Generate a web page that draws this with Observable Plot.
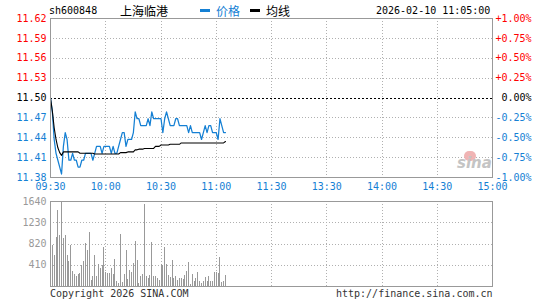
<!DOCTYPE html>
<html><head><meta charset="utf-8">
<script src="https://cdn.jsdelivr.net/npm/d3@7"></script>
<script src="https://cdn.jsdelivr.net/npm/@observablehq/plot@0.6"></script>
<style>
body{margin:0;background:#fff}
#wrap{position:relative;width:545px;height:300px;overflow:hidden;font-family:"DejaVu Sans Mono",monospace;font-size:10px;color:#000}
.t{position:absolute;white-space:nowrap;line-height:12px}
.cjk{font-family:"Noto Sans CJK SC",sans-serif;font-size:12px;line-height:14px}
.abs{position:absolute}
</style></head><body><div id="wrap">
<div class="t" style="left:49px;top:5px">sh600848</div>
<div class="t cjk" style="left:120px;top:4px">上海临港</div>
<div class="abs" style="left:200px;top:9px;width:10px;height:3px;background:#1580d4"></div>
<div class="t cjk" style="left:216px;top:4px;color:#1580d4">价格</div>
<div class="abs" style="left:250px;top:9px;width:10px;height:3px;background:#000"></div>
<div class="t cjk" style="left:266px;top:4px">均线</div>
<div class="t" style="left:376px;top:5px">2026-02-10 11:05:00</div>
<div id="p1" class="abs" style="left:0;top:0"></div>
<div id="p2" class="abs" style="left:0;top:190px"></div>
<div class="abs" style="left:464px;top:151px;width:12px;height:10px;border-radius:6px;background:#f0b4b4"></div>
<div class="t" style="left:457px;top:156px;font-family:'DejaVu Sans';font-weight:bold;font-style:italic;font-size:15px;line-height:15px;color:#c4c4c4">sina</div>
<div class="t" style="left:50px;top:288px;color:#333">Copyright 2026 SINA.COM</div>
<div class="t" style="left:336px;top:288px;color:#333">http://finance.sina.com.cn</div>
</div>
<script>
const prevClose = 11.50;
const timeTicks = [0, 30, 60, 90, 120, 150, 180, 210, 240];
const timeLabels = ["09:30","10:00","10:30","11:00","11:30","13:30","14:00","14:30","15:00"];
const priceTicks = [11.615, 11.58625, 11.5575, 11.52875, 11.50, 11.47125, 11.4425, 11.41375, 11.385];
const priceLabels = ["11.62","11.59","11.56","11.53","11.50","11.47","11.44","11.41","11.38"];
const pctLabels = ["+1.00%","+0.75%","+0.50%","+0.25%","0.00%","-0.25%","-0.50%","-0.75%","-1.00%"];
const volTicks = [1640, 1230, 820, 410];
const volLabels = ["1640","1230","820","410"];

const prices = [
 11.50,11.48,11.44,11.42,11.41,11.40,11.39,11.43,11.45,11.44,
 11.41,11.41,11.42,11.41,11.41,11.40,11.40,11.41,11.41,11.42,
 11.42,11.42,11.42,11.41,11.42,11.43,11.43,11.43,11.42,11.43,
 11.43,11.43,11.43,11.42,11.43,11.42,11.42,11.43,11.44,11.45,
 11.45,11.43,11.44,11.44,11.44,11.45,11.48,11.47,11.47,11.46,
 11.46,11.46,11.46,11.47,11.46,11.48,11.47,11.47,11.47,11.47,
 11.47,11.45,11.47,11.48,11.47,11.46,11.46,11.46,11.47,11.47,
 11.46,11.46,11.46,11.46,11.46,11.45,11.46,11.45,11.45,11.45,
 11.45,11.45,11.44,11.45,11.46,11.45,11.46,11.46,11.45,11.45,
 11.45,11.44,11.47,11.46,11.45,11.45
];
const avgPrices = [
 11.500,11.481,11.457,11.440,11.428,11.421,11.417,11.422,11.422,11.422,
 11.422,11.422,11.422,11.422,11.422,11.422,11.420,11.420,11.420,11.420,
 11.420,11.420,11.420,11.420,11.419,11.419,11.419,11.419,11.419,11.419,
 11.419,11.419,11.419,11.419,11.419,11.419,11.419,11.419,11.421,11.421,
 11.421,11.421,11.422,11.422,11.422,11.422,11.425,11.425,11.426,11.426,
 11.426,11.427,11.427,11.427,11.427,11.427,11.427,11.430,11.430,11.430,
 11.432,11.432,11.432,11.432,11.432,11.433,11.433,11.433,11.433,11.433,
 11.433,11.435,11.435,11.435,11.435,11.435,11.435,11.435,11.435,11.435,
 11.435,11.435,11.435,11.435,11.435,11.435,11.435,11.435,11.435,11.435,
 11.435,11.435,11.435,11.435,11.435,11.437
];
const volumes = [
 410,794,602,954,1467,987,1627,922,987,602,
 474,794,282,230,186,230,250,410,474,826,
 698,1050,122,186,602,186,423,346,410,762,
 269,250,250,346,230,519,90,58,999,77,
 230,698,141,314,269,442,871,506,58,186,
 230,1576,186,154,205,858,186,186,154,122,
 423,410,762,423,218,166,506,154,186,122,
 154,154,141,205,295,461,38,231,90,154,
 269,102,58,102,173,102,186,90,102,269,
 269,250,551,77,90,205
];

const blue = "#1580d4", red = "#ff0000";
const rows = prices.map((p, i) => ({m: i, price: p, avg: avgPrices[i], vol: volumes[i]}));
const dotted = {stroke: "#b0b0b0", strokeDasharray: "1,2", strokeWidth: 1, shapeRendering: "crispEdges"};
const style = {fontFamily: "DejaVu Sans Mono", fontSize: "10px", background: "transparent", overflow: "visible"};

const p1 = Plot.plot({
  width: 545, height: 190,
  marginTop: 18, marginBottom: 13, marginLeft: 50, marginRight: 53,
  style,
  x: {domain: [0, 240], axis: null},
  y: {domain: [11.385, 11.615], axis: null},
  color: {type: "identity"},
  marks: [
    Plot.ruleY(priceTicks.slice(1, -1).filter(v => v !== prevClose), dotted),
    Plot.ruleX(timeTicks.slice(1, -1), dotted),
    Plot.ruleY([prevClose], {stroke: "#000", strokeDasharray: "2,2", strokeWidth: 1, shapeRendering: "crispEdges"}),
    Plot.line(rows, {x: "m", y: "price", stroke: blue, strokeWidth: 1.25}),
    Plot.line(rows, {x: "m", y: "avg", stroke: "#000", strokeWidth: 1.1}),
    Plot.frame({stroke: "#999", shapeRendering: "crispEdges"}),
    Plot.text(priceTicks, {x: 0, y: d => d, text: (d, i) => priceLabels[i], textAnchor: "end", dx: -4,
      fill: d => d > prevClose ? red : d < prevClose ? blue : "#000"}),
    Plot.text(priceTicks, {x: 240, y: d => d, text: (d, i) => pctLabels[i], textAnchor: "end", dx: 39,
      fill: d => d > prevClose ? red : d < prevClose ? blue : "#000"}),
    Plot.text(timeTicks, {x: d => d, y: 11.385, text: (d, i) => timeLabels[i], dy: 9, fill: blue})
  ]
});
document.getElementById("p1").appendChild(p1);

const p2 = Plot.plot({
  width: 545, height: 110,
  marginTop: 11, marginBottom: 14, marginLeft: 50, marginRight: 53,
  style,
  x: {domain: [0, 240], axis: null},
  y: {domain: [0, 1640], axis: null},
  marks: [
    Plot.ruleY(volTicks.slice(1), dotted),
    Plot.ruleX(timeTicks.slice(1, -1), dotted),
    Plot.ruleX(rows, {x: "m", y: "vol", stroke: "#999", strokeWidth: 1, shapeRendering: "crispEdges"}),
    Plot.frame({stroke: "#999", shapeRendering: "crispEdges"}),
    Plot.text(volTicks, {x: 0, y: d => d, text: (d, i) => volLabels[i], textAnchor: "end", dx: -4, fill: "#999"})
  ]
});
document.getElementById("p2").appendChild(p2);
</script>
</body></html>
